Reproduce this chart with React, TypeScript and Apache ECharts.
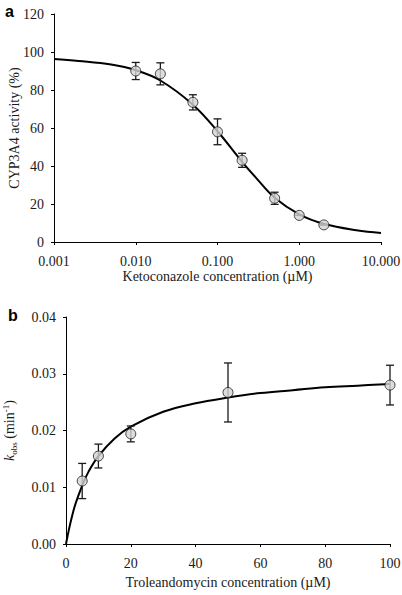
import React, { useEffect, useRef } from "react";
import * as echarts from "echarts";

// Panel a: ketoconazole inhibition
const ketoX = [0.01, 0.02, 0.05, 0.1, 0.2, 0.5, 1, 2];
const activity = [90, 88.5, 73.5, 58, 43, 23, 14, 9];
const activityErr = [4.5, 5.8, 4, 6.8, 3.7, 3.2, 0, 0];
const ketoCurveX = [0.001, 0.002, 0.005, 0.01, 0.02, 0.05, 0.1, 0.2, 0.3, 0.5, 1, 2, 5, 10];
const ketoCurveY = [96.3, 95.3, 93.4, 90.4, 85, 72.3, 58.3, 42.2, 33.5, 23.3, 14.6, 9.6, 6.2, 4.8];
const ketoTicks = ["0.001", "0.010", "0.100", "1.000", "10.000"];

// Panel b: troleandomycin kinetics
const troX = [5, 10, 20, 50, 100];
const kobs = [0.0111, 0.0155, 0.0194, 0.0267, 0.028];
const kobsErr = [0.0031, 0.0021, 0.0014, 0.0052, 0.0035];
const troCurveX = [0, 1, 2, 3, 5, 7, 10, 15, 20, 30, 40, 50, 60, 70, 80, 90, 100];
const troCurveY = [0, 0.0028, 0.0052, 0.0072, 0.0103, 0.0128, 0.0155, 0.0186, 0.0207, 0.0233, 0.0248, 0.0258, 0.0266, 0.0271, 0.0276, 0.0279, 0.0282];

const FONT = "'Liberation Serif', 'Times New Roman', serif";

function errorBarSeries(xs: number[], ys: number[], errs: number[], axisIndex: number) {
  return {
    type: "custom",
    xAxisIndex: axisIndex,
    yAxisIndex: axisIndex,
    z: 3,
    data: xs.map((x, i) => [x, ys[i] - errs[i], ys[i] + errs[i]]),
    renderItem: (_params: any, api: any) => {
      const x = api.value(0);
      const lo = api.coord([x, api.value(1)]);
      const hi = api.coord([x, api.value(2)]);
      const w = 4;
      const style = { stroke: "#1a1a1a", lineWidth: 1.3 };
      return {
        type: "group",
        children: [
          { type: "line", shape: { x1: lo[0], y1: lo[1], x2: hi[0], y2: hi[1] }, style },
          { type: "line", shape: { x1: hi[0] - w, y1: hi[1], x2: hi[0] + w, y2: hi[1] }, style },
          { type: "line", shape: { x1: lo[0] - w, y1: lo[1], x2: lo[0] + w, y2: lo[1] }, style },
        ],
      };
    },
  };
}

export default function App() {
  const ref = useRef<HTMLDivElement>(null);
  useEffect(() => {
    if (!ref.current) return;
    const chart = echarts.init(ref.current, null, { renderer: "svg" });
    const axisLine = { show: true, lineStyle: { color: "#000", width: 1 } };
    const axisTick = { show: true, length: 3, lineStyle: { color: "#000", width: 1 } };
    const axisLabel = { color: "#1a1a1a", fontFamily: FONT, fontSize: 14 };
    const nameStyle = { color: "#1a1a1a", fontFamily: FONT, fontSize: 14 };
    chart.setOption({
      animation: false,
      backgroundColor: "#fff",
      textStyle: { fontFamily: FONT, fontSize: 14, color: "#1a1a1a" },
      grid: [
        { left: 54, top: 14, width: 327, height: 228, containLabel: false, outerBoundsMode: "none" },
        { left: 66, top: 317, width: 324, height: 227, containLabel: false, outerBoundsMode: "none" },
      ],
      xAxis: [
        {
          gridIndex: 0,
          type: "log",
          logBase: 10,
          min: 0.001,
          max: 10,
          axisLine,
          axisTick,
          splitLine: { show: false },
          minorTick: { show: false },
          axisLabel: {
            ...axisLabel,
            margin: 12,
            formatter: (v: number) => {
              const idx = Math.round(Math.log10(v) + 3);
              return ketoTicks[idx] ?? "";
            },
          },
          name: "Ketoconazole concentration (\u00b5M)",
          nameLocation: "middle",
          nameGap: 27,
          nameMoveOverlap: false,
          nameTextStyle: nameStyle,
        },
        {
          gridIndex: 1,
          type: "value",
          min: 0,
          max: 100,
          interval: 20,
          axisLine,
          axisTick,
          splitLine: { show: false },
          axisLabel: { ...axisLabel, margin: 12 },
          name: "Troleandomycin concentration (\u00b5M)",
          nameLocation: "middle",
          nameGap: 31,
          nameMoveOverlap: false,
          nameTextStyle: nameStyle,
        },
      ],
      yAxis: [
        {
          gridIndex: 0,
          type: "value",
          min: 0,
          max: 120,
          interval: 20,
          axisLine,
          axisTick,
          splitLine: { show: false },
          axisLabel: { ...axisLabel, margin: 10 },
          name: "CYP3A4 activity (%)",
          nameLocation: "middle",
          nameGap: 33,
          nameMoveOverlap: false,
          nameTextStyle: nameStyle,
        },
        {
          gridIndex: 1,
          type: "value",
          min: 0,
          max: 0.04,
          interval: 0.01,
          axisLine,
          axisTick,
          splitLine: { show: false },
          axisLabel: { ...axisLabel, margin: 10, formatter: (v: number) => v.toFixed(2) },
          name: "{i|k}{sub|obs}{n| (min}{sup|-1}{n|)}",
          nameLocation: "middle",
          nameGap: 48,
          nameMoveOverlap: false,
          nameTextStyle: {
            ...nameStyle,
            rich: {
              i: { fontFamily: FONT, fontSize: 14, fontStyle: "italic", color: "#1a1a1a" },
              n: { fontFamily: FONT, fontSize: 14, color: "#1a1a1a" },
              sub: { fontFamily: FONT, fontSize: 9, color: "#1a1a1a", padding: [8, 0, 0, 0] },
              sup: { fontFamily: FONT, fontSize: 9, color: "#1a1a1a", padding: [0, 0, 8, 0] },
            },
          },
        },
      ],
      graphic: [
        { type: "text", left: 5, top: 3, style: { text: "a", font: "bold 16px 'Liberation Sans'", fill: "#000" } },
        { type: "text", left: 8, top: 307, style: { text: "b", font: "bold 16px 'Liberation Sans'", fill: "#000" } },
      ],
      series: [
        {
          type: "line",
          xAxisIndex: 0,
          yAxisIndex: 0,
          data: ketoCurveX.map((x, i) => [x, ketoCurveY[i]]),
          smooth: 0.4,
          showSymbol: false,
          lineStyle: { color: "#000", width: 2 },
          z: 2,
        },
        errorBarSeries(ketoX, activity, activityErr, 0),
        {
          type: "scatter",
          xAxisIndex: 0,
          yAxisIndex: 0,
          data: ketoX.map((x, i) => [x, activity[i]]),
          symbol: "circle",
          symbolSize: 10,
          itemStyle: { color: "#d3d3d3", borderColor: "#1a1a1a", borderWidth: 1 },
          z: 4,
        },
        {
          type: "line",
          xAxisIndex: 1,
          yAxisIndex: 1,
          data: troCurveX.map((x, i) => [x, troCurveY[i]]),
          smooth: 0.4,
          showSymbol: false,
          lineStyle: { color: "#000", width: 2 },
          z: 2,
        },
        errorBarSeries(troX, kobs, kobsErr, 1),
        {
          type: "scatter",
          xAxisIndex: 1,
          yAxisIndex: 1,
          data: troX.map((x, i) => [x, kobs[i]]),
          symbol: "circle",
          symbolSize: 10,
          itemStyle: { color: "#d3d3d3", borderColor: "#1a1a1a", borderWidth: 1 },
          z: 4,
        },
      ],
    });
    return () => chart.dispose();
  }, []);
  return (
    <div
      ref={ref}
      style={{ position: "fixed", left: 0, top: 0, width: 402, height: 595, background: "#fff" }}
    />
  );
}
